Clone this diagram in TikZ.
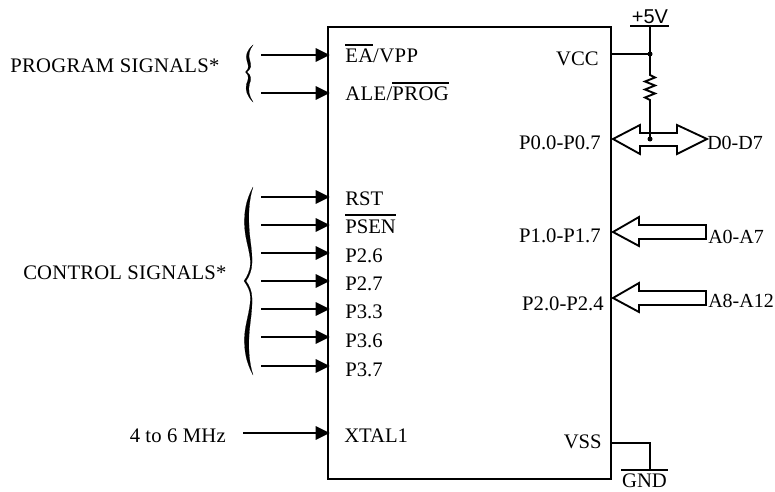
\documentclass[tikz,border=0pt]{standalone}
\usepackage{fontspec}
\setmainfont{Liberation Serif}
\newfontfamily\plusfont{Liberation Sans}
\usetikzlibrary{arrows.meta,calc}
\tikzset{
  pinline/.style={line width=1.4pt, -{Triangle[length=10.5pt,width=10pt]}, shorten >=-2pt},
  wire/.style={line width=1.4pt},
  busarrow/.style={line width=1.4pt, fill=white, line join=miter},
  pinlabel/.style={font=\fontsize{15.5}{17}\selectfont, inner sep=0pt},
  buslabel/.style={font=\fontsize{15}{17}\selectfont, inner sep=0pt},
  widelabel/.style={font=\fontsize{15.5}{17}\selectfont\addfontfeature{LetterSpace=#1}, inner sep=0pt},
  bracefill/.style={fill=black, draw=black, line width=.1pt}
}
\newcommand{\ovl}[1]{\vbox{\hrule height 1.1pt \kern 2.6pt \hbox{#1}}}
\begin{document}
\begin{tikzpicture}[x=.75pt, y=-.75pt]
  \useasboundingbox (0,0) rectangle (775,492);
  \node[draw, line width=1.4pt, minimum width=212.25pt, minimum height=339pt, inner sep=0pt] (chip) at (469.5,253) {};
  % left side pins
  \foreach \name/\y in {ea/55, ale/93, rst/197, psen/225, ptwosix/253, ptwoseven/281, pthreethree/309, pthreesix/337, pthreeseven/366} {
    \coordinate (\name in) at (261,\y);
    \draw[pinline] (\name in) -- (chip.west |- \name in);
  }
  \node[widelabel=2, anchor=base west] (ea) at (345,63) {\ovl{EA}/VPP};
  \node[widelabel=2, anchor=base west] (ale) at (345,101) {ALE/\ovl{PROG}};
  \node[pinlabel, anchor=base west] (rst) at (345,205) {RST};
  \node[pinlabel, anchor=base west] (psen) at (345,233) {\ovl{PSEN}};
  \node[pinlabel, anchor=base west] (ptwosix) at (345,262) {P2.6};
  \node[pinlabel, anchor=base west] (ptwoseven) at (345,290) {P2.7};
  \node[pinlabel, anchor=base west] (pthreethree) at (345,318) {P3.3};
  \node[pinlabel, anchor=base west] (pthreesix) at (345,347) {P3.6};
  \node[pinlabel, anchor=base west] (pthreeseven) at (345,376) {P3.7};
  \node[pinlabel, anchor=base west] (xtal) at (344,442) {XTAL1};
  \node[widelabel=1, anchor=base east] (clock) at (226,442) {4 to 6 MHz};
  \coordinate (xtal in) at (243,433);
  \draw[pinline] (xtal in) -- (chip.west |- xtal in);
  % group labels
  \node[widelabel=1.5, anchor=base west] (progsig) at (10,73) {PROGRAM SIGNALS*};
  \node[widelabel=1, anchor=base west] (ctrlsig) at (23,279) {CONTROL SIGNALS*};
  \draw[bracefill] (253,45) .. controls (247,50) and (245,56) .. (247,61) .. controls (248,65) and (250,68) .. (245.5,72)
    .. controls (250,76) and (248,80) .. (246.5,84) .. controls (245,90) and (247,96) .. (253,102)
    .. controls (249,96) and (248,90) .. (249.5,84) .. controls (251,80) and (252,76) .. (247,72)
    .. controls (252,68) and (251,65) .. (250,61) .. controls (248,56) and (249,50) .. (253,45) -- cycle;
  \draw[bracefill] (253,187) .. controls (246,200) and (244,212) .. (244.5,225) .. controls (245,240) and (250,250) .. (250.5,263)
    .. controls (250.5,270) and (247,277) .. (244,281) .. controls (247,285) and (250.5,291) .. (250.5,298)
    .. controls (250,312) and (245,324) .. (244.5,337) .. controls (244,350) and (246,362) .. (253,375)
    .. controls (249,362) and (248.5,350) .. (249,337) .. controls (249.5,324) and (252.5,312) .. (252,298)
    .. controls (252,291) and (249,285) .. (246,281) .. controls (249,277) and (252,270) .. (252,263)
    .. controls (252.5,250) and (249.5,240) .. (249,225) .. controls (248.5,212) and (249,200) .. (253,187) -- cycle;
  % right side pins
  \node[pinlabel, anchor=base east] (vcc) at (599,65.5) {VCC};
  \node[pinlabel, anchor=base east] (pzero) at (601,149) {P0.0-P0.7};
  \node[pinlabel, anchor=base east] (pone) at (601,242) {P1.0-P1.7};
  \node[pinlabel, anchor=base east] (ptwo) at (604,310.5) {P2.0-P2.4};
  \node[pinlabel, anchor=base east] (vss) at (602,448) {VSS};
  % supply
  \node[font=\plusfont\fontsize{15}{17}\selectfont, inner sep=0pt, anchor=base] (plusv) at (650,24) {+5V};
  \coordinate (railtop) at (650,26);
  \draw[wire] (630,26) -- (669,26);
  \coordinate (vccdot) at (650,54);
  \coordinate (restop) at (650,75);
  \coordinate (resbot) at (650,102);
  \coordinate (busdot) at (650,139);
  \draw[wire] (railtop) -- (vccdot) -- (restop) -- ++(5,2.5) -- ++(-10,4) -- ++(10,4) -- ++(-10,4) -- ++(10,4) -- ++(-10,4) -- ++(5,2.5) -- (resbot) -- (busdot);
  \draw[wire] (chip.east |- vccdot) -- (vccdot);
  \fill (vccdot) circle (2.5);
  % buses
  \draw[busarrow] (613,139) -- (640,125) -- (640,133) -- (677,133) -- (677,125) -- (707,139) -- (677,154) -- (677,146) -- (640,146) -- (640,154) -- cycle;
  \draw[wire] (650,133) -- (busdot);
  \fill (busdot) circle (2.5);
  \node[buslabel, anchor=base west] (dbus) at (707,149) {D0-D7};
  \draw[busarrow] (613,232) -- (639,217) -- (639,225) -- (706,225) -- (706,239) -- (639,239) -- (639,246) -- cycle;
  \node[buslabel, anchor=base west] (abuslow) at (708,243) {A0-A7};
  \draw[busarrow] (613,298) -- (639,283) -- (639,291) -- (706,291) -- (706,305) -- (639,305) -- (639,312) -- cycle;
  \node[buslabel, anchor=base west] (abushigh) at (708,307.5) {A8-A12};
  % ground
  \coordinate (gndtop) at (650,443);
  \draw[wire] (chip.east |- gndtop) -- (gndtop) -- (650,470);
  \draw[wire] (621,470) -- (668,470);
  \node[pinlabel, anchor=base] (gnd) at (644.5,487) {GND};
\end{tikzpicture}
\end{document}
